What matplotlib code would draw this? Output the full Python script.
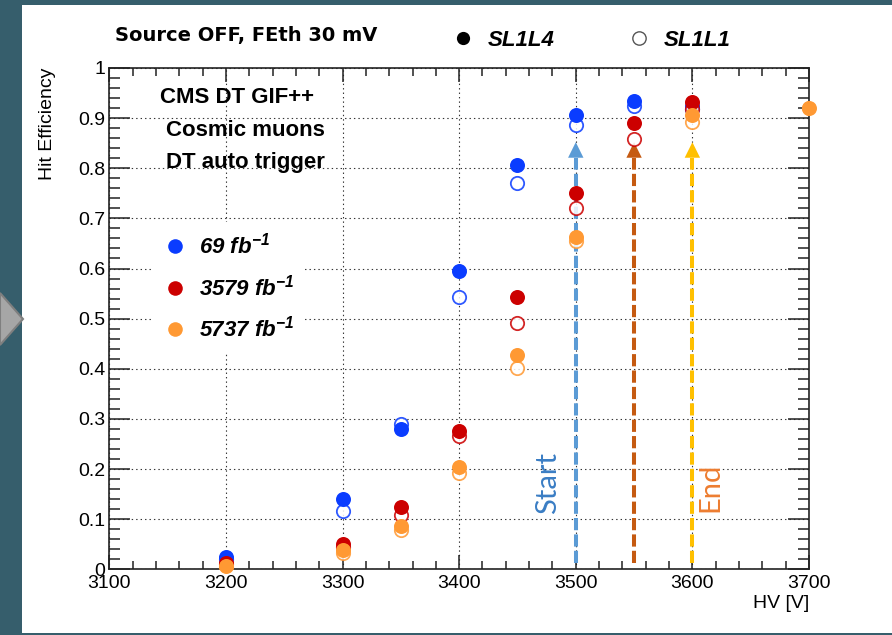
import matplotlib.pyplot as plt
import matplotlib.patches as mpatches
from matplotlib.lines import Line2D
import numpy as np

# HV scan points and hit efficiency (filled = SL1L4, open = SL1L1)
blue_hv = [3200, 3300, 3350, 3400, 3450, 3500, 3550, 3600]
blue_l4 = [0.025, 0.140, 0.279, 0.596, 0.806, 0.906, 0.934, 0.925]
blue_l1 = [0.020, 0.117, 0.290, 0.543, 0.771, 0.886, 0.925, 0.918]

red_hv = [3200, 3300, 3350, 3400, 3450, 3500, 3550, 3600]
red_l4 = [0.013, 0.051, 0.125, 0.275, 0.544, 0.751, 0.891, 0.932]
red_l1 = [0.010, 0.045, 0.108, 0.266, 0.492, 0.720, 0.859, 0.918]

orange_hv = [3200, 3300, 3350, 3400, 3450, 3500, 3600, 3700]
orange_l4 = [0.007, 0.038, 0.086, 0.205, 0.427, 0.662, 0.906, 0.921]
orange_l1 = [0.005, 0.033, 0.078, 0.193, 0.402, 0.655, 0.893, 0.921]

dose_labels = ['69 fb$^{-1}$', '3579 fb$^{-1}$', '5737 fb$^{-1}$']
colors = ['#0a3cff', '#cc0000', '#ff9933']

arrow_hv = [3500, 3550, 3600]
arrow_colors = ['#5b9bd5', '#c55a11', '#ffc000']
arrow_low = 0.012
arrow_tip = 0.852

x_ticks = [3100, 3200, 3300, 3400, 3500, 3600, 3700]
y_ticks = [0, 0.1, 0.2, 0.3, 0.4, 0.5, 0.6, 0.7, 0.8, 0.9, 1]
y_labels = ['0', '0.1', '0.2', '0.3', '0.4', '0.5', '0.6', '0.7', '0.8', '0.9', '1']

plt.rcParams['font.family'] = 'Liberation Sans'
plt.rcParams['mathtext.fontset'] = 'custom'
plt.rcParams['mathtext.rm'] = 'Liberation Sans:bold:italic'
plt.rcParams['mathtext.it'] = 'Liberation Sans:bold:italic'
plt.rcParams['lines.scale_dashes'] = False

W, H = 892, 635
fig = plt.figure(figsize=(W / 100, H / 100), dpi=100)
fig.patch.set_facecolor('#365e6c')
# white slide panel and the grey chevron at its left edge
fig.add_artist(mpatches.Rectangle((22 / W, 2 / H), (W - 22) / W, 628 / H,
                                  transform=fig.transFigure, facecolor='white',
                                  edgecolor='none', zorder=0))
fig.add_artist(mpatches.Polygon([(0, 1 - 293 / H), (23 / W, 1 - 319 / H), (0, 1 - 345 / H)],
                                closed=True, transform=fig.transFigure,
                                facecolor='#a6a6a6', edgecolor='#7f7f7f', lw=1.5, zorder=1))

ax = fig.add_axes([109.3 / W, 1 - 569.3 / H, 699.7 / W, 501.3 / H])
ax.set_xlim(3100, 3700)
ax.set_ylim(0, 1)

ax.grid(True, which='major', color='#333333', linestyle=(0, (1, 2.2)), lw=0.8, zorder=0)
ax.set_axisbelow(True)

# start / end arrows
for xh, c in zip(arrow_hv, arrow_colors):
    base = arrow_tip - 0.031
    ax.plot([xh, xh], [arrow_low, base], color=c, lw=2.9, dashes=(8.8, 3.0),
            solid_capstyle='butt', dash_capstyle='butt', zorder=2)
    ax.add_patch(mpatches.Polygon([(xh - 6.6, base), (xh + 6.6, base), (xh, arrow_tip)],
                                  closed=True, facecolor=c, edgecolor='none', zorder=2))

series = [(blue_hv, blue_l4, blue_l1), (red_hv, red_l4, red_l1), (orange_hv, orange_l4, orange_l1)]
for (xs, l4, l1), c in zip(series, colors):
    ax.plot(xs, l1, 'o', ms=9.6, mfc='white', mec=c, mew=1.3, alpha=0.85, zorder=3)
    ax.plot(xs, l4, 'o', ms=10.8, mfc=c, mec=c, mew=0, zorder=3, clip_on=False)

ax.text(3476, 0.172, 'Start', rotation=90, color='#3a7dc4', fontsize=21,
        family='Lato', ha='center', va='center')
ax.text(3615.5, 0.164, 'End', rotation=90, color='#ed7d31', fontsize=21,
        family='Lato', ha='center', va='center')

ax.set_xticks(x_ticks)
ax.set_yticks(y_ticks)
ax.set_yticklabels(y_labels)
ax.set_xticks(np.arange(3100, 3701, 20), minor=True)
ax.set_yticks(np.arange(0, 1.001, 0.02), minor=True)
ax.tick_params(axis='both', which='both', direction='in', top=True, right=True,
               labelsize=14, width=1.1, color='#222222')
ax.tick_params(axis='y', which='major', length=15, pad=3)
ax.tick_params(axis='y', which='minor', length=8)
ax.tick_params(axis='x', which='major', length=10, pad=4)
ax.tick_params(axis='x', which='minor', length=5.8)
for sp in ax.spines.values():
    sp.set_linewidth(1.2)
    sp.set_color('#222222')

# info text
for txt, x, y in [('CMS DT GIF++', 160, 97.5), ('Cosmic muons', 166, 131), ('DT auto trigger', 166, 162)]:
    fig.text(x / W, 1 - y / H, txt, fontsize=16, fontweight='bold', va='center')

fig.text(115 / W, 1 - 35 / H, 'Source OFF, FEth 30 mV', family='DejaVu Sans',
         fontsize=14, fontweight='bold', va='center')
fig.text(47 / W, 1 - 68 / H, 'Hit Efficiency', rotation=90, fontsize=14, ha='center', va='top')
fig.text(809 / W, 1 - 603 / H, 'HV [V]', fontsize=14, ha='right', va='center')

# dose legend
handles = [Line2D([], [], ls='none', marker='o', ms=10.5, mfc=c, mec=c, mew=0) for c in colors]
leg = ax.legend(handles, dose_labels, loc='upper left', bbox_to_anchor=(0.0624, 0.693),
                frameon=True, fancybox=False, facecolor='white', edgecolor='none', framealpha=1,
                borderpad=0.5, borderaxespad=0, handlelength=1.0, handletextpad=0.55,
                labelspacing=0.7, prop={'size': 16, 'weight': 'bold', 'style': 'italic'})
leg.set_zorder(4)

# layer legend
lh = [Line2D([], [], ls='none', marker='o', ms=9.5, mfc='black', mec='black', mew=0),
      Line2D([], [], ls='none', marker='o', ms=9.6, mfc='white', mec='#555555', mew=1.0)]
fig.legend(lh, ['SL1L4', 'SL1L1'], ncol=2, loc='center left', bbox_to_anchor=(452 / W, 1 - 40 / H),
           frameon=False, borderpad=0, borderaxespad=0, handlelength=1.0, handletextpad=0.6,
           columnspacing=3.3, prop={'size': 16, 'weight': 'bold', 'style': 'italic'})

fig.savefig('out.png', dpi=100, facecolor=fig.get_facecolor())
